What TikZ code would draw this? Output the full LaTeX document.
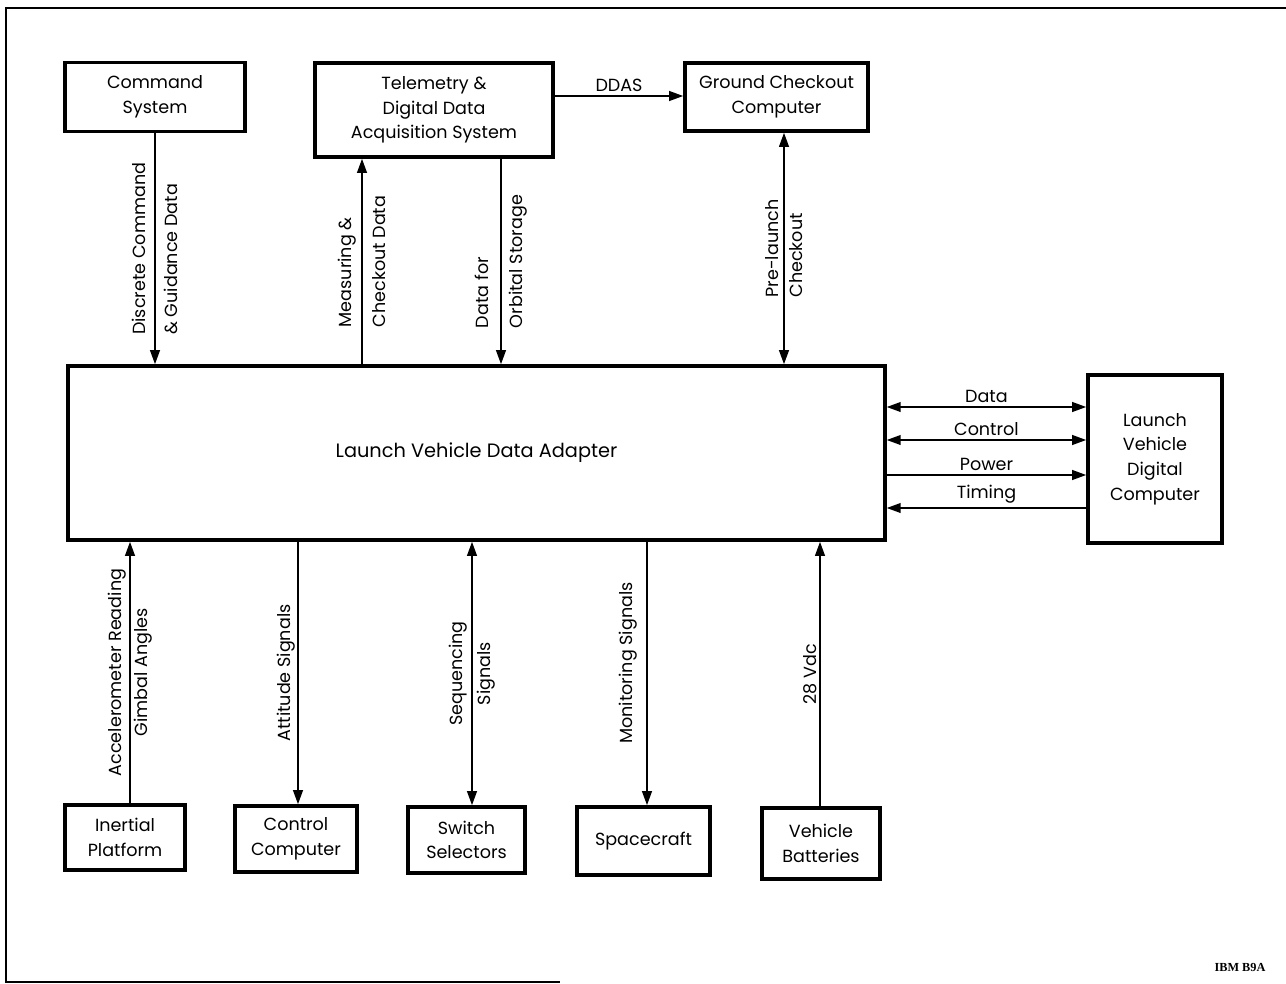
\documentclass[tikz,border=0pt]{standalone}
\usepackage{fontspec}
\setmainfont{Poppins}
\newfontfamily\tagfont{Liberation Serif}
\usetikzlibrary{arrows.meta}

\begin{document}
\begin{tikzpicture}[x=0.02cm,y=-0.02cm]
\tikzset{blk/.style={draw,line width=2pt,align=center,inner sep=2pt,font=\fontsize{10}{14}\selectfont},
  sig/.style={line width=1.1pt,-{Triangle[length=8pt,width=5.5pt]}},
  bisig/.style={line width=1.1pt,{Triangle[length=8pt,width=5.5pt]}-{Triangle[length=8pt,width=5.5pt]}},
  vlab/.style={rotate=90,font=\fontsize{10}{14}\selectfont,inner sep=1pt},
  hlab/.style={above,font=\fontsize{10}{14}\selectfont,inner sep=2pt}}
\useasboundingbox (0,0) rectangle (1286,984);
% open frame
\draw[line width=1.2pt] (1286,8) -- (6,8) -- (6,982) -- (560,982);
% upper row
\node[blk,minimum width=3.6cm,minimum height=1.38cm] (cmd) at (155,97) {Command\\System};
\node[blk,minimum width=4.76cm,minimum height=1.88cm] (tlm) at (434,110) {Telemetry \&\\Digital Data\\Acquisition System};
\node[blk,minimum width=3.66cm,minimum height=1.36cm] (gnd) at (776.5,97) {Ground Checkout\\Computer};
% adapter and computer
\node[blk,minimum width=16.34cm,minimum height=3.48cm,font=\fontsize{11}{14}\selectfont] (lvda) at (476.5,453) {Launch Vehicle Data Adapter};
\node[blk,minimum width=2.68cm,minimum height=3.36cm] (lvdc) at (1155,459) {Launch\\Vehicle\\Digital\\Computer};
% lower row
\node[blk,minimum width=2.4cm,minimum height=1.3cm] (inp) at (125,837.5) {Inertial\\Platform};
\node[blk,minimum width=2.44cm,minimum height=1.32cm] (ctl) at (296,839) {Control\\Computer};
\node[blk,minimum width=2.34cm,minimum height=1.32cm] (sws) at (466.5,840) {Switch\\Selectors};
\node[blk,minimum width=2.66cm,minimum height=1.36cm] (spc) at (643.5,841) {Spacecraft};
\node[blk,minimum width=2.36cm,minimum height=1.42cm] (vbt) at (821,843.5) {Vehicle\\Batteries};
\node[font=\tagfont\bfseries\fontsize{7}{8}\selectfont] (tag) at (1240,967) {IBM B9A};

% columns and rows of the connectors
\coordinate (xmeas) at (362,0);
\coordinate (xorb) at (501,0);
\coordinate (xpre) at (784,0);
\coordinate (xacc) at (130,0);
\coordinate (xatt) at (298,0);
\coordinate (xseq) at (472,0);
\coordinate (xmon) at (647,0);
\coordinate (xvdc) at (820,0);
\coordinate (yddas) at (0,96);
\coordinate (ydata) at (0,407);
\coordinate (yctl) at (0,440);
\coordinate (ypow) at (0,475);
\coordinate (ytim) at (0,508);

% top connectors
\draw[sig] (tlm.east |- yddas) -- (gnd.west |- yddas) node[midway,hlab] {DDAS};
\draw[sig] (cmd.south) -- (cmd.south |- lvda.north)
  node[midway,vlab,align=left] {Discrete Command\\[4pt]\& Guidance Data};
\draw[sig] (lvda.north -| xmeas) -- (tlm.south -| xmeas)
  node[midway,vlab,align=left] {Measuring \&\\[5pt]Checkout Data};
\draw[sig] (tlm.south -| xorb) -- (lvda.north -| xorb)
  node[midway,vlab,align=left] {Data for\\[5pt]Orbital Storage};
\draw[bisig] (gnd.south -| xpre) -- (lvda.north -| xpre)
  node[midway,vlab,align=left] {Pre-launch\\Checkout};

% side connectors
\draw[bisig] (lvda.east |- ydata) -- (lvdc.west |- ydata) node[midway,hlab] {Data};
\draw[bisig] (lvda.east |- yctl) -- (lvdc.west |- yctl) node[midway,hlab] {Control};
\draw[sig] (lvda.east |- ypow) -- (lvdc.west |- ypow) node[midway,hlab] {Power};
\draw[sig] (lvdc.west |- ytim) -- (lvda.east |- ytim) node[midway,hlab] {Timing};

% bottom connectors
\draw[sig] (inp.north -| xacc) -- (lvda.south -| xacc)
  node[midway,vlab,align=center] {Accelerometer Reading\\[1pt]Gimbal Angles};
\draw[sig] (lvda.south -| xatt) -- (ctl.north -| xatt) node[midway,vlab,above] {Attitude Signals};
\draw[bisig] (lvda.south -| xseq) -- (sws.north -| xseq)
  node[midway,vlab,align=center] {Sequencing\\[2pt]Signals};
\draw[sig] (lvda.south -| xmon) -- (spc.north -| xmon) node[pos=0.46,vlab,above=4pt] {Monitoring Signals};
\draw[sig] (vbt.north -| xvdc) -- (lvda.south -| xvdc) node[midway,vlab,above] {28 Vdc};
\end{tikzpicture}
\end{document}
